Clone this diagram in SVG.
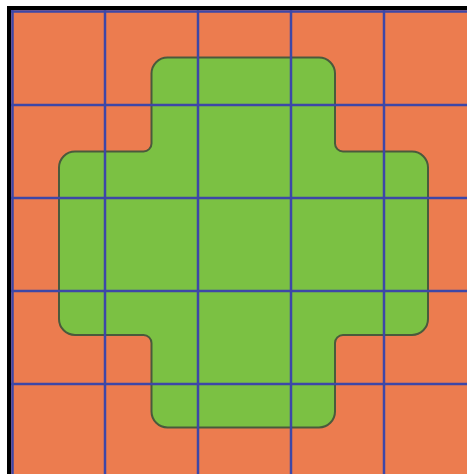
<svg xmlns="http://www.w3.org/2000/svg" width="467" height="474" viewBox="0 0 467 474">
  <style>
    .grid line { stroke: #3d47a8; stroke-width: 2.5; }
    .frame { fill: #000000; }
  </style>
  <rect x="0" y="0" width="467" height="474" fill="#ffffff"/>
  <g id="background">
    <rect x="11" y="10" width="456" height="464" fill="#ec7c4f"/>
  </g>
  <g id="cross">
    <path d="M167.5,57.5 H319 A16 16 0 0 1 335,73.5 V143.5 A8 8 0 0 0 343,151.5 H412 A16 16 0 0 1 428,167.5 V319 A16 16 0 0 1 412,335 H343 A8 8 0 0 0 335,343 V411.5 A16 16 0 0 1 319,427.5 H167.5 A16 16 0 0 1 151.5,411.5 V343 A8 8 0 0 0 143.5,335 H75 A16 16 0 0 1 59,319 V167.5 A16 16 0 0 1 75,151.5 H143.5 A8 8 0 0 0 151.5,143.5 V73.5 A16 16 0 0 1 167.5,57.5 Z" fill="#7bc143" stroke="#4a5a3c" stroke-width="2"/>
  </g>
  <g id="grid" class="grid">
    <line x1="12.5" y1="10" x2="12.5" y2="474"/>
    <line x1="105" y1="10" x2="105" y2="474"/>
    <line x1="198" y1="10" x2="198" y2="474"/>
    <line x1="291" y1="10" x2="291" y2="474"/>
    <line x1="384" y1="10" x2="384" y2="474"/>
    <line x1="11" y1="11.5" x2="467" y2="11.5"/>
    <line x1="11" y1="105" x2="467" y2="105"/>
    <line x1="11" y1="198" x2="467" y2="198"/>
    <line x1="11" y1="291" x2="467" y2="291"/>
    <line x1="11" y1="384" x2="467" y2="384"/>
  </g>
  <g id="border">
    <rect class="frame" x="7" y="6" width="460" height="4"/>
    <rect class="frame" x="7" y="6" width="4" height="468"/>
  </g>
</svg>
